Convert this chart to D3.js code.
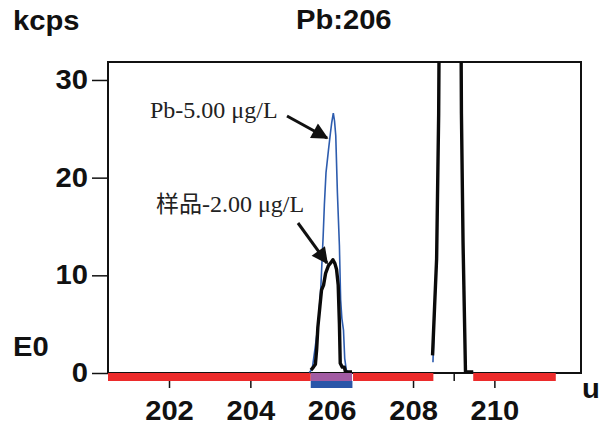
<!DOCTYPE html>
<html>
<head>
<meta charset="utf-8">
<script src="https://cdn.jsdelivr.net/npm/d3@7"></script>
<style>
  html, body { margin: 0; padding: 0; background: #fff; }
  svg { display: block; }
  .lbl { font-family: "Liberation Sans", Arial, sans-serif; font-weight: bold; font-size: 27px; fill: #111; }
  .ann { font-family: "Liberation Serif", "Times New Roman", serif; font-size: 24px; fill: #222; }
</style>
</head>
<body>
<svg id="chart" width="599" height="429"></svg>
<script>
// Pb-206 scan: standard (5.00 µg/L) and sample traces, in kcps versus mass (u).
// null marks the break between the two scan windows.
const stdMass = [205.45, 205.52, 205.55, 205.60, 205.67, 205.73, 205.79, 205.82, 205.86, 205.92,
                 205.97, 206.00, 206.04, 206.07, 206.10, 206.14, 206.19, 206.22, 206.25, 206.29,
                 206.32, 206.36, 206.42,
                 null,
                 208.49, 208.53, 208.58, 208.63, 208.68, 208.75, 208.90, 209.00, 209.10, 209.15,
                 209.19, 209.23, 209.29, 209.48];
const stdKcps = [0.05, 0.4, 1.3, 2.8, 5.1, 8.5, 14.0, 17.2, 20.5, 22.8,
                 24.6, 25.6, 26.6, 25.8, 24.3, 18.5, 13.0, 7.5, 5.6, 4.4,
                 1.5, 0.3, 0.05,
                 null,
                 1.1, 6.5, 11.5, 26.0, 60, 120, 160, 150, 100, 58,
                 26.2, 13.0, 0.1, 0.1];

const sampleMass = [205.49, 205.55, 205.60, 205.63, 205.66, 205.71, 205.75, 205.80, 205.85, 205.92,
                    205.98, 206.03, 206.08, 206.12, 206.16, 206.19, 206.21, 206.26, 206.31, 206.34,
                    206.50,
                    null,
                    208.48, 208.53, 208.58, 208.63, 208.68, 208.75, 208.90, 209.00, 209.10, 209.15,
                    209.19, 209.23, 209.29, 209.48];
const sampleKcps = [0.3, 0.6, 0.9, 2.4, 4.7, 6.8, 8.5, 9.0, 10.2, 11.0,
                    11.3, 11.6, 11.2, 10.6, 9.0, 5.0, 1.0, 0.6, 0.6, 0.1,
                    0.1,
                    null,
                    1.8, 6.8, 11.7, 26.4, 60, 120, 160, 150, 100, 60,
                    26.6, 13.3, 0.1, 0.1];

// Mass windows along the baseline
const backgroundBands = [[200.5, 205.485], [206.525, 208.5], [209.48, 211.51]];
const peakBand = [205.485, 206.5];

const yTicks = [0, 10, 20, 30];
const xMajorTicks = [202, 204, 206, 208, 210];
const xMinorTicks = [201, 203, 205, 207, 209, 211];

const svg = d3.select("#chart");
const plotLeft = 108, plotRight = 581, plotTop = 62, plotBottom = 373;
const stretch = 1.08; // labels are set slightly wide

const x = d3.scaleLinear().domain([200.5, 212.13]).range([plotLeft, plotRight]);
const y = d3.scaleLinear().domain([0, 31.84]).range([plotBottom, plotTop]);

// widen a label horizontally while keeping its anchor point in place
function widen(sel) {
  sel.each(function () {
    const t = d3.select(this);
    const x0 = +t.attr("x") || 0;
    t.attr("x", x0 / stretch).attr("transform", `scale(${stretch},1)`);
  });
}

const defs = svg.append("defs");
defs.append("clipPath").attr("id", "plotClip")
  .append("rect").attr("x", plotLeft).attr("y", plotTop)
  .attr("width", plotRight - plotLeft).attr("height", plotBottom - plotTop);

// Y axis
const yAxis = svg.append("g").attr("transform", `translate(${plotLeft},0)`)
  .call(d3.axisLeft(y).tickValues(yTicks).tickSize(16).tickPadding(4).tickSizeOuter(0));
yAxis.select(".domain").remove();
yAxis.selectAll(".tick line").attr("stroke", "#111").attr("stroke-width", 1.5);
yAxis.selectAll(".tick text").attr("class", "lbl").attr("fill", null).call(widen);

// X axis: minor ticks then major ticks with labels
const xMinor = svg.append("g").attr("transform", `translate(0,${plotBottom})`)
  .call(d3.axisBottom(x).tickValues(xMinorTicks).tickSize(8).tickFormat("").tickSizeOuter(0));
xMinor.select(".domain").remove();
xMinor.selectAll(".tick line").attr("stroke", "#111").attr("stroke-width", 1.5);

const xAxis = svg.append("g").attr("transform", `translate(0,${plotBottom})`)
  .call(d3.axisBottom(x).tickValues(xMajorTicks).tickSize(15).tickPadding(13).tickSizeOuter(0));
xAxis.select(".domain").remove();
xAxis.selectAll(".tick line").attr("stroke", "#111").attr("stroke-width", 1.5);
xAxis.selectAll(".tick text").attr("class", "lbl").attr("fill", null).call(widen);

// Frame
svg.append("path")
  .attr("d", `M${plotLeft},${plotBottom}V${plotTop}H${plotRight}V${plotBottom}H${plotLeft}`)
  .attr("fill", "none").attr("stroke", "#111").attr("stroke-width", 2);

// Traces
const line = d3.line()
  .defined((d) => d[0] !== null && d[1] !== null)
  .x((d) => x(d[0])).y((d) => y(d[1]));

const plot = svg.append("g").attr("clip-path", "url(#plotClip)");
plot.append("path")
  .datum(stdMass.map((m, i) => [m, stdKcps[i]]))
  .attr("d", line).attr("fill", "none")
  .attr("stroke", "#2d5cae").attr("stroke-width", 1.6);
plot.append("path")
  .datum(sampleMass.map((m, i) => [m, sampleKcps[i]]))
  .attr("d", line).attr("fill", "none")
  .attr("stroke", "#0a0a0a").attr("stroke-width", 3.4).attr("stroke-linejoin", "round");

// Baseline windows
svg.append("g").selectAll("rect").data(backgroundBands).join("rect")
  .attr("x", (d) => x(d[0])).attr("width", (d) => x(d[1]) - x(d[0]))
  .attr("y", plotBottom).attr("height", 8).attr("fill", "#ec2b2b");
svg.append("rect")
  .attr("x", x(peakBand[0])).attr("width", x(peakBand[1]) - x(peakBand[0]))
  .attr("y", plotBottom).attr("height", 8).attr("fill", "#a25ba3");
svg.append("rect")
  .attr("x", x(peakBand[0])).attr("width", x(peakBand[1] + 0.01) - x(peakBand[0]))
  .attr("y", plotBottom + 8).attr("height", 7).attr("fill", "#2a56a8");

// Titles
svg.append("text").attr("class", "lbl").attr("x", 13).attr("y", 30).text("kcps").call(widen);
svg.append("text").attr("class", "lbl").attr("x", 296).attr("y", 29).text("Pb:206").call(widen);
svg.append("text").attr("class", "lbl").attr("x", 13).attr("y", 356).text("E0").call(widen);
svg.append("text").attr("class", "lbl").attr("x", 582).attr("y", 398).text("u").call(widen);

// Annotations with arrows
defs.append("marker").attr("id", "head")
  .attr("viewBox", "0 0 10 10").attr("refX", 9).attr("refY", 5)
  .attr("markerWidth", 6).attr("markerHeight", 5.5).attr("orient", "auto")
  .attr("markerUnits", "strokeWidth")
  .append("path").attr("d", "M0,0L10,5L0,10z").attr("fill", "#111");

svg.append("text").attr("class", "ann").attr("x", 150).attr("y", 118).text("Pb-5.00 μg/L");
const sampleText = svg.append("text").attr("class", "ann").attr("x", 156).attr("y", 212);
sampleText.append("tspan").attr("font-family", "'Noto Sans CJK SC', sans-serif").attr("font-size", 23).text("样品");
sampleText.append("tspan").text("-2.00 μg/L");

svg.append("line").attr("x1", 287).attr("y1", 116).attr("x2", 327).attr("y2", 138)
  .attr("stroke", "#111").attr("stroke-width", 3).attr("marker-end", "url(#head)");
svg.append("line").attr("x1", 298).attr("y1", 223).attr("x2", 327).attr("y2", 263)
  .attr("stroke", "#111").attr("stroke-width", 3).attr("marker-end", "url(#head)");
</script>
</body>
</html>
